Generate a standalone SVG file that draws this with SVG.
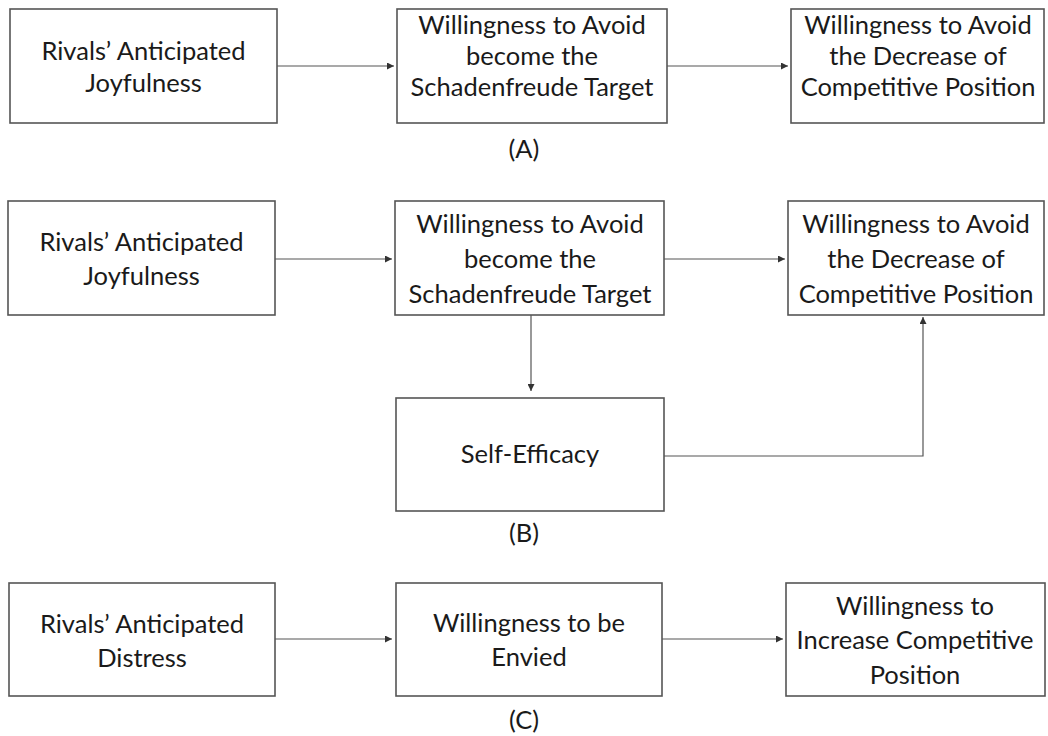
<svg xmlns="http://www.w3.org/2000/svg" width="1048" height="736" viewBox="0 0 1048 736">
<defs>
<style>
.box{fill:#fff;stroke:#555;stroke-width:1.6}
.t{font-family:Lato,"Open Sans","Liberation Sans",sans-serif;font-size:25.5px;fill:#1a1a1a;text-anchor:middle}
.c{fill:none;stroke:#555;stroke-width:1.2}
</style>
<marker id="ah" viewBox="0 0 10 10" refX="10" refY="5" markerWidth="7" markerHeight="7" markerUnits="userSpaceOnUse" orient="auto">
<path d="M0,0 L10,5 L0,10 z" fill="#333"/>
</marker>
</defs>
<rect width="1048" height="736" fill="#fff"/>
<g id="connectors">
<line class="c" x1="277" y1="66" x2="394" y2="66" marker-end="url(#ah)"/>
<line class="c" x1="667" y1="66" x2="788" y2="66" marker-end="url(#ah)"/>
<line class="c" x1="275" y1="259" x2="392" y2="259" marker-end="url(#ah)"/>
<line class="c" x1="664" y1="259" x2="785" y2="259" marker-end="url(#ah)"/>
<line class="c" x1="531" y1="315" x2="531" y2="391" marker-end="url(#ah)"/>
<polyline class="c" points="664,456 923,456 923,317" marker-end="url(#ah)"/>
<line class="c" x1="275" y1="639" x2="392" y2="639" marker-end="url(#ah)"/>
<line class="c" x1="662" y1="639" x2="783" y2="639" marker-end="url(#ah)"/>
</g>
<g id="a1"><rect class="box" x="10" y="9" width="267" height="114"/>
<text class="t" x="143.5" y="60">Rivals’ Anticipated</text><text class="t" x="143.5" y="92">Joyfulness</text></g>
<g id="a2"><rect class="box" x="397" y="9" width="270" height="114"/>
<text class="t" x="532" y="34">Willingness to Avoid</text><text class="t" x="532" y="65">become the</text><text class="t" x="532" y="96">Schadenfreude Target</text></g>
<g id="a3"><rect class="box" x="791" y="9" width="253" height="114"/>
<text class="t" x="918" y="34">Willingness to Avoid</text><text class="t" x="918" y="65">the Decrease of</text><text class="t" x="918" y="96">Competitive Position</text></g>
<text class="t" x="524" y="158">(A)</text>
<g id="b1"><rect class="box" x="8" y="201" width="267" height="114"/>
<text class="t" x="141.5" y="251">Rivals’ Anticipated</text><text class="t" x="141.5" y="285">Joyfulness</text></g>
<g id="b2"><rect class="box" x="395" y="201" width="269" height="114"/>
<text class="t" x="530" y="233">Willingness to Avoid</text><text class="t" x="530" y="268">become the</text><text class="t" x="530" y="303">Schadenfreude Target</text></g>
<g id="b3"><rect class="box" x="788" y="201" width="256" height="114"/>
<text class="t" x="916" y="233">Willingness to Avoid</text><text class="t" x="916" y="268">the Decrease of</text><text class="t" x="916" y="303">Competitive Position</text></g>
<g id="b4"><rect class="box" x="396" y="398" width="268" height="113"/>
<text class="t" x="530" y="463">Self-Efficacy</text></g>
<text class="t" x="524" y="542">(B)</text>
<g id="c1"><rect class="box" x="9" y="583" width="266" height="113"/>
<text class="t" x="142" y="633">Rivals’ Anticipated</text><text class="t" x="142" y="667">Distress</text></g>
<g id="c2"><rect class="box" x="396" y="583" width="266" height="113"/>
<text class="t" x="529" y="632">Willingness to be</text><text class="t" x="529" y="666">Envied</text></g>
<g id="c3"><rect class="box" x="786" y="583" width="259" height="113"/>
<text class="t" x="915" y="615">Willingness to</text><text class="t" x="915" y="649">Increase Competitive</text><text class="t" x="915" y="684">Position</text></g>
<text class="t" x="524" y="729">(C)</text>
</svg>
